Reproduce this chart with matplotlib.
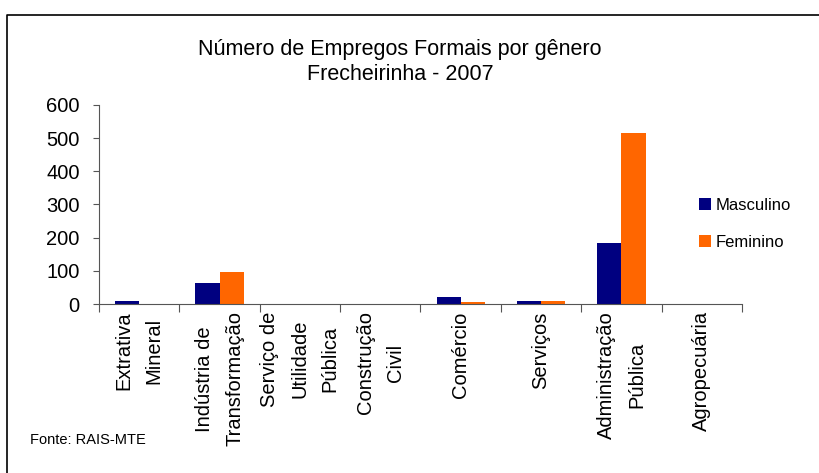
import matplotlib.pyplot as plt
import numpy as np

plt.rcParams['font.family'] = ['Liberation Sans', 'DejaVu Sans']

# categorias e valores
categorias = ["Extrativa\nMineral", "Indústria de\nTransformação",
              "Serviço de\nUtilidade\nPública", "Construção\nCivil",
              "Comércio", "Serviços", "Administração\nPública", "Agropecuária"]
masculino = [10, 62, 0, 0, 20, 10, 185, 0]
feminino = [0, 95, 0, 0, 6, 10, 515, 0]
y_ticks = [0, 100, 200, 300, 400, 500, 600]

cor_masc = '#000080'
cor_fem = '#FF6600'

fig = plt.figure(figsize=(8.2, 4.73), dpi=100)
ax = fig.add_axes([99 / 820, 1 - 304 / 473, 643 / 820, 199 / 473])

x = np.arange(len(categorias))
w = 0.3
ax.bar(x - w / 2, masculino, w, color=cor_masc, label='Masculino')
ax.bar(x + w / 2, feminino, w, color=cor_fem, label='Feminino')

ax.set_xlim(-0.5, len(categorias) - 0.5)
ax.set_ylim(0, 600)
ax.set_yticks(y_ticks)
ax.tick_params(axis='y', labelsize=14.5, length=4, width=0.8, color='#555555', pad=10)
ax.set_xticks(list(x - 0.5) + [len(categorias) - 0.5])
ax.set_xticklabels([])
ax.tick_params(axis='x', length=6, width=0.8, color='#555555')
for xi, lab in zip(x, categorias):
    ax.text(xi, -22, lab, rotation=90, ha='center', va='top', fontsize=14.5,
            multialignment='center', linespacing=1.75)

for s in ['top', 'right']:
    ax.spines[s].set_visible(False)
for s in ['left', 'bottom']:
    ax.spines[s].set_color('#555555')
    ax.spines[s].set_linewidth(0.8)

fig.text(400 / 820, 1 - 49 / 473, "Número de Empregos Formais por gênero",
         ha='center', va='center', fontsize=15.5)
fig.text(400 / 820, 1 - 75 / 473, "Frecheirinha - 2007",
         ha='center', va='center', fontsize=15.5)

ax.legend(loc='center left', bbox_to_anchor=(684 / 820, 1 - 224 / 473),
          bbox_transform=fig.transFigure, frameon=False, fontsize=12,
          handlelength=0.75, handleheight=0.75, handletextpad=0.25,
          labelspacing=1.3)

fig.text(30 / 820, 1 - 440 / 473, "Fonte: RAIS-MTE", ha='left', va='center',
         fontsize=10.5)

# moldura (linha superior e esquerda)
fig.add_artist(plt.Line2D([7 / 820, 7 / 820, 1], [0, 1 - 15 / 473, 1 - 15 / 473],
                          transform=fig.transFigure, color='black', lw=1.2))

fig.savefig('out.png', dpi=100)
